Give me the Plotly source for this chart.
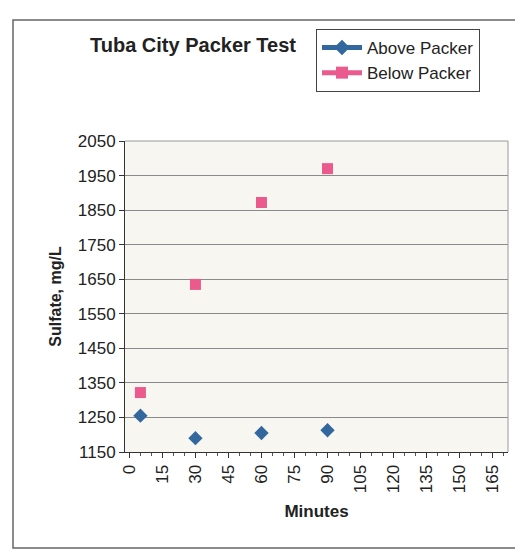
import plotly.graph_objects as go

# Sampling times (minutes) and sulfate concentrations (mg/L)
minutes = [5, 30, 60, 90]
above_packer = [1255, 1190, 1205, 1213]
below_packer = [1322, 1635, 1872, 1970]

y_ticks = [1150, 1250, 1350, 1450, 1550, 1650, 1750, 1850, 1950, 2050]
x_ticks = list(range(0, 166, 15))

font_family = "Liberation Sans, Arial, sans-serif"
blue = "#33689f"
pink = "#ea5a8d"

fig = go.Figure()
# Data points (markers only)
fig.add_trace(go.Scatter(
    x=minutes, y=above_packer, name="Above Packer", mode="markers",
    marker=dict(symbol="diamond", size=11, color=blue), showlegend=False,
))
fig.add_trace(go.Scatter(
    x=minutes, y=below_packer, name="Below Packer", mode="markers",
    marker=dict(symbol="square", size=11, color=pink), showlegend=False,
))
# Legend entries drawn with line + marker keys
fig.add_trace(go.Scatter(
    x=[None], y=[None], name="Above Packer", mode="lines+markers",
    marker=dict(symbol="diamond", size=8, color=blue), line=dict(color=blue, width=1),
))
fig.add_trace(go.Scatter(
    x=[None], y=[None], name="Below Packer", mode="lines+markers",
    marker=dict(symbol="square", size=9, color=pink), line=dict(color=pink, width=1),
))

fig.update_layout(
    width=515, height=550,
    margin=dict(l=125, r=7, t=141, b=98),
    paper_bgcolor="white",
    plot_bgcolor="#f7f6f1",
    font=dict(family=font_family, color="#222222", size=16),
    showlegend=True,
    legend=dict(
        x=(316 - 125) / 383, y=(452 - 29) / 311, xanchor="left", yanchor="top",
        bordercolor="#444444", borderwidth=1, bgcolor="white",
        font=dict(size=17, color="#222222"),
        itemsizing="constant", tracegroupgap=0, itemwidth=40,
    ),
    xaxis=dict(
        range=[-2, 172], tickmode="array", tickvals=x_ticks,
        ticktext=[str(v) for v in x_ticks], tickangle=-90,
        ticks="outside", ticklen=5, tickcolor="#333333",
        minor=dict(dtick=5, tick0=0, ticks="outside", ticklen=3, tickcolor="#555555"),
        showgrid=False, zeroline=False,
        showline=True, linecolor="#333333", linewidth=1, mirror=False,
        tickfont=dict(size=17),
        title=dict(text="<b>Minutes</b>", font=dict(size=17), standoff=12),
    ),
    yaxis=dict(
        range=[1150, 2050], tickmode="array", tickvals=y_ticks,
        ticks="outside", ticklen=5, tickcolor="#333333",
        showgrid=True, gridcolor="#8a8a8a", gridwidth=1,
        zeroline=False,
        showline=True, linecolor="#333333", linewidth=1,
        tickfont=dict(size=17),
        title=dict(text="<b>Sulfate, mg/L</b>", font=dict(size=16), standoff=12),
    ),
)

# Chart title beside the legend
fig.add_annotation(
    text="<b>Tuba City Packer Test</b>", xref="paper", yref="paper",
    x=(193 - 125) / 383, y=(452 - 45) / 311, xanchor="center", yanchor="middle",
    showarrow=False, font=dict(size=20, color="#222222", family=font_family),
)

# Outer chart-area border and light plot edges
fig.add_shape(type="rect", xref="paper", yref="paper",
              x0=(13 - 125) / 383, x1=(516 - 125) / 383,
              y0=(452 - 548) / 311, y1=(452 - 20) / 311,
              line=dict(color="#666666", width=1.5), fillcolor="rgba(0,0,0,0)", layer="below")
fig.add_shape(type="line", xref="paper", yref="paper", x0=1, x1=1, y0=0, y1=1,
              line=dict(color="#9a9a9a", width=1))
fig.add_shape(type="line", xref="paper", yref="paper", x0=0, x1=1, y0=1, y1=1,
              line=dict(color="#9a9a9a", width=1))

fig.write_html("out.html")
